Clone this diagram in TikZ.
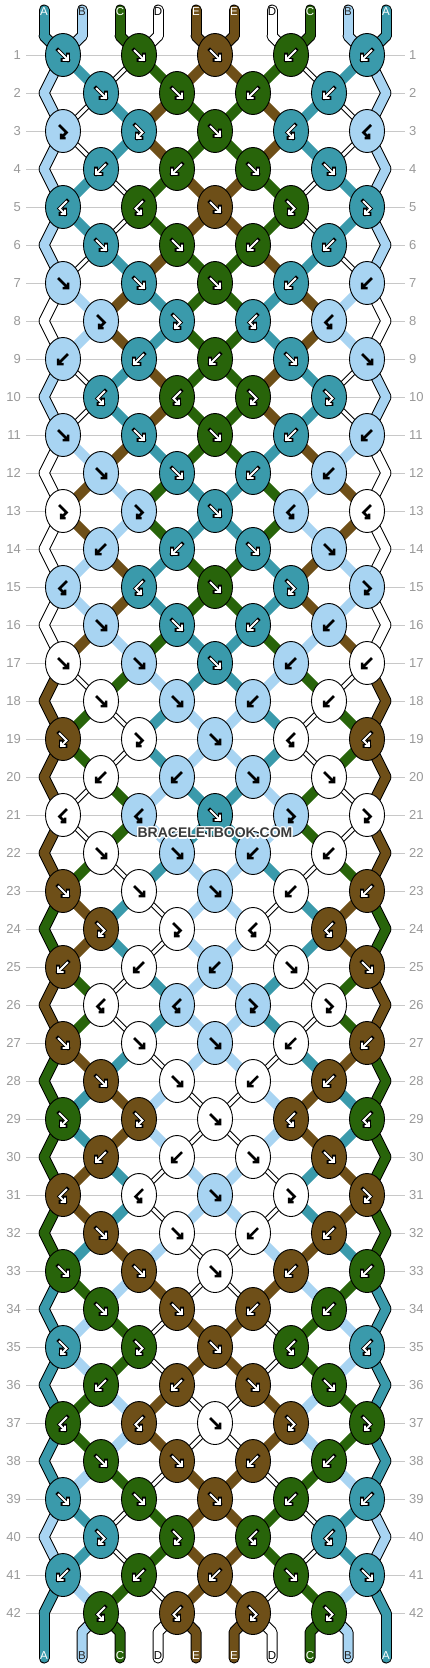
\documentclass[tikz,border=0pt]{standalone}
\usepackage{fontspec}
\setmainfont{Liberation Sans}
\usetikzlibrary{shapes.geometric,calc}

\definecolor{strA}{HTML}{3A9AAB}
\definecolor{strB}{HTML}{A8D4F2}
\definecolor{strC}{HTML}{28640A}
\definecolor{strD}{HTML}{FFFFFF}
\definecolor{strE}{HTML}{6E4F18}
\colorlet{labA}{white}
\colorlet{labB}{black!85}
\colorlet{labC}{white}
\colorlet{labD}{black}
\colorlet{labE}{white}
\definecolor{numgray}{HTML}{999999}
\definecolor{gridgray}{HTML}{C8C8C8}
\definecolor{wmgray}{HTML}{3A3A3A}

\def\setrow#1#2{\expandafter\def\csname kt#1\endcsname{#2}}
\def\setpos#1#2{\expandafter\xdef\csname pos#1\endcsname{#2}}
\def\getpos#1{\csname pos#1\endcsname}
\def\store#1#2{\expandafter\xdef\csname #1\endcsname{#2}}

\setpos{1}{A}\setpos{2}{B}\setpos{3}{C}\setpos{4}{D}\setpos{5}{E}
\setpos{6}{E}\setpos{7}{D}\setpos{8}{C}\setpos{9}{B}\setpos{10}{A}

% F forward, B backward, f forward-backward, b backward-forward
\setrow{1}{F,F,F,B,B}
\setrow{2}{F,F,B,B}
\setrow{3}{f,f,F,b,b}
\setrow{4}{B,B,F,F}
\setrow{5}{b,b,F,f,f}
\setrow{6}{F,F,B,B}
\setrow{7}{F,F,F,B,B}
\setrow{8}{f,f,b,b}
\setrow{9}{B,B,B,F,F}
\setrow{10}{b,b,f,f}
\setrow{11}{F,F,F,B,B}
\setrow{12}{F,F,B,B}
\setrow{13}{f,f,F,b,b}
\setrow{14}{B,B,F,F}
\setrow{15}{b,b,F,f,f}
\setrow{16}{F,F,B,B}
\setrow{17}{F,F,F,B,B}
\setrow{18}{F,F,B,B}
\setrow{19}{f,f,F,b,b}
\setrow{20}{B,B,F,F}
\setrow{21}{b,b,F,f,f}
\setrow{22}{F,F,B,B}
\setrow{23}{F,F,F,B,B}
\setrow{24}{f,f,b,b}
\setrow{25}{B,B,B,F,F}
\setrow{26}{b,b,f,f}
\setrow{27}{F,F,F,B,B}
\setrow{28}{F,F,B,B}
\setrow{29}{f,f,F,b,b}
\setrow{30}{B,B,F,F}
\setrow{31}{b,b,F,f,f}
\setrow{32}{F,F,B,B}
\setrow{33}{F,F,F,B,B}
\setrow{34}{F,F,B,B}
\setrow{35}{f,f,F,b,b}
\setrow{36}{B,B,F,F}
\setrow{37}{b,b,F,f,f}
\setrow{38}{F,F,B,B}
\setrow{39}{F,F,F,B,B}
\setrow{40}{f,f,b,b}
\setrow{41}{B,B,B,F,F}
\setrow{42}{b,b,f,f}

\newcommand\symdraw[1]{%
  \if F\ktype \draw[#1] (-5,-5) -- (5,5) (5,-.5) -- (5,5) -- (-.5,5);\fi
  \if B\ktype \draw[#1] (5,-5) -- (-5,5) (-5,-.5) -- (-5,5) -- (.5,5);\fi
  \if f\ktype \draw[#1] (-4,-6) -- (3.5,1.5) -- (-2,7) (-2,2.5) -- (-2,7) -- (2.5,7);\fi
  \if b\ktype \draw[#1] (4,-6) -- (-3.5,1.5) -- (2,7) (2,2.5) -- (2,7) -- (-2.5,7);\fi}

\tikzset{
  knot/.style={ellipse, draw=black, line width=0.9pt, minimum width=35pt, minimum height=43pt, inner sep=0pt},
  rowline/.style={draw=gridgray, line width=1pt},
  rownum/.style={text=numgray, font=\fontsize{13}{13}\selectfont, inner sep=0pt},
  endlabel/.style={font=\fontsize{11.5}{11.5}\selectfont, inner sep=0pt},
  strandedge/.style={draw=black, line width=11pt, line cap=round, line join=round},
  strandcore/.style={line width=9pt, line cap=round, line join=round},
  strandthin/.style={draw=black, line width=5.4pt},
  strandthincore/.style={draw=white, line width=3.4pt},
  strandinner/.style={line width=10pt},
  watermark/.style={font=\bfseries\fontsize{14}{14}\selectfont, inner sep=0pt}
}

\begin{document}
\begin{tikzpicture}[x=1pt,y=-1pt]
\useasboundingbox (0,0) rectangle (430,1668);
\fill[white] (0,0) rectangle (430,1668);

\foreach \pp in {1,...,10} {
  \pgfmathsetmacro\px{44+38*(\pp-1)}
  \store{top-col-\pp}{\getpos{\pp}}
  \coordinate (top-\pp) at (\px,10);
  \coordinate (p-0-\pp) at (\px,36);
}

% work out the strings row by row
\foreach \rw in {1,...,42} {
  \pgfmathtruncatemacro\ky{55+38*(\rw-1)}
  \foreach \pp in {1,...,10} {
    \ifodd\rw\relax
      \ifodd\pp\relax \pgfmathsetmacro\px{63+38*(\pp-1)}\else \pgfmathsetmacro\px{63+38*(\pp-2)}\fi
    \else
      \ifodd\pp\relax \pgfmathsetmacro\px{63+38*(\pp-2)}\else \pgfmathsetmacro\px{63+38*(\pp-1)}\fi
      \ifnum\pp=1 \def\px{44}\fi
      \ifnum\pp=10 \def\px{386}\fi
    \fi
    \coordinate (p-\rw-\pp) at (\px,\ky);
    \store{sc-\rw-\pp}{\getpos{\pp}}
  }
  \edef\ks{\csname kt\rw\endcsname}
  \foreach \ktype [count=\ki] in \ks {
    \ifodd\rw\relax \pgfmathtruncatemacro\kj{2*\ki-1}\else \pgfmathtruncatemacro\kj{2*\ki}\fi
    \pgfmathtruncatemacro\kjj{\kj+1}
    \edef\cL{\getpos{\kj}}\edef\cR{\getpos{\kjj}}
    \if F\ktype \store{kc-\rw-\kj}{\cL}\setpos{\kj}{\cR}\setpos{\kjj}{\cL}\fi
    \if B\ktype \store{kc-\rw-\kj}{\cR}\setpos{\kj}{\cR}\setpos{\kjj}{\cL}\fi
    \if f\ktype \store{kc-\rw-\kj}{\cL}\fi
    \if b\ktype \store{kc-\rw-\kj}{\cR}\fi
  }
}

\foreach \pp in {1,...,10} {
  \pgfmathsetmacro\px{44+38*(\pp-1)}
  \store{bot-col-\pp}{\getpos{\pp}}
  \coordinate (p-43-\pp) at (\px,1632);
  \coordinate (bot-\pp) at (\px,1658);
}

\foreach \rw in {1,...,42} {
  \pgfmathtruncatemacro\ky{55+38*(\rw-1)}
  \draw[rowline] (26,\ky) -- (405,\ky);
  \node[rownum, anchor=east] (nl-\rw) at (21,\ky) {\rw};
  \node[rownum, anchor=west] (nr-\rw) at (409,\ky) {\rw};
}

% outlines
\foreach \pp in {1,...,10} {
  \draw[strandedge] (top-\pp) -- (p-0-\pp);
  \draw[strandedge] (p-42-\pp) -- (p-43-\pp) -- (bot-\pp);
  \foreach \rw in {1,...,42} {
    \pgfmathtruncatemacro\prv{\rw-1}
    \edef\segcol{\csname sc-\rw-\pp\endcsname}
    \ifnum\numexpr(\rw-1)*(\pp-1)*(\pp-10)\relax=0
      \draw[strandedge] (p-\prv-\pp) -- (p-\rw-\pp);
    \else
      \if D\segcol \draw[strandthin] (p-\prv-\pp) -- (p-\rw-\pp);\fi
    \fi
  }
}

% string colours
\foreach \pp in {1,...,10} {
  \edef\segcol{\csname top-col-\pp\endcsname}
  \draw[strandcore, draw=str\segcol] (top-\pp) -- (p-0-\pp);
  \edef\segcol{\csname bot-col-\pp\endcsname}
  \draw[strandcore, draw=str\segcol] (p-42-\pp) -- (p-43-\pp) -- (bot-\pp);
  \foreach \rw in {1,...,42} {
    \pgfmathtruncatemacro\prv{\rw-1}
    \edef\segcol{\csname sc-\rw-\pp\endcsname}
    \ifnum\numexpr(\rw-1)*(\pp-1)*(\pp-10)\relax=0
      \draw[strandcore, draw=str\segcol] (p-\prv-\pp) -- (p-\rw-\pp);
    \else
      \if D\segcol \draw[strandthincore] (p-\prv-\pp) -- (p-\rw-\pp);
      \else \draw[strandinner, draw=str\segcol] (p-\prv-\pp) -- (p-\rw-\pp);\fi
    \fi
  }
}

% knots
\foreach \rw in {1,...,42} {
  \pgfmathtruncatemacro\ky{55+38*(\rw-1)}
  \edef\ks{\csname kt\rw\endcsname}
  \foreach \ktype [count=\ki] in \ks {
    \ifodd\rw\relax \pgfmathtruncatemacro\kj{2*\ki-1}\else \pgfmathtruncatemacro\kj{2*\ki}\fi
    \pgfmathsetmacro\kx{63+38*(\kj-1)}
    \edef\kc{\csname kc-\rw-\kj\endcsname}
    \node[knot, fill=str\kc] (k-\rw-\kj) at (\kx,\ky) {};
    \begin{scope}[shift={(\kx,\ky)}]
      \if B\kc \symdraw{draw=black, line width=2.5pt, line join=miter}%
      \else\if D\kc \symdraw{draw=black, line width=2.5pt, line join=miter}%
      \else
        \symdraw{draw=black, line width=3.6pt, line cap=rect, line join=miter}%
        \symdraw{draw=white, line width=1.8pt, line join=miter}%
      \fi\fi
    \end{scope}
  }
}

\foreach \pp in {1,...,10} {
  \pgfmathsetmacro\px{44+38*(\pp-1)}
  \edef\segcol{\csname top-col-\pp\endcsname}
  \node[endlabel, text=lab\segcol] (tl-\pp) at (\px,12) {\segcol};
  \edef\segcol{\csname bot-col-\pp\endcsname}
  \node[endlabel, text=lab\segcol] (bl-\pp) at (\px,1656) {\segcol};
}

\foreach \a [count=\hi] in {0,45,...,315}
  \node[watermark, text=white] (wmh-\hi) at ($(215,833)+(\a:1.3)$) {BRACELETBOOK.COM};
\node[watermark, text=wmgray] (wm) at (215,833) {BRACELETBOOK.COM};
\end{tikzpicture}
\end{document}
